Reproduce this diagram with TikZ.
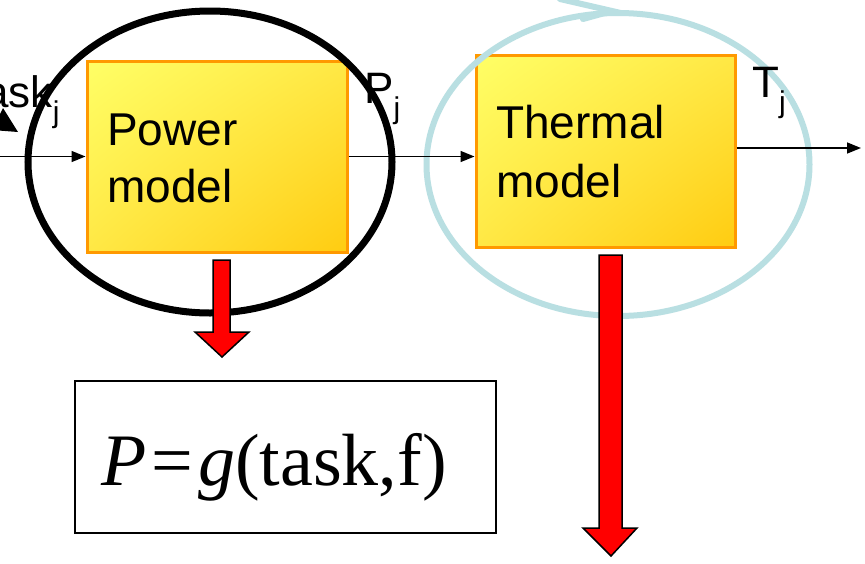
\documentclass[tikz,border=0pt]{standalone}
\usepackage{fontspec}
\setmainfont{Liberation Sans}
\newfontfamily\timesfont{Liberation Serif}
\usetikzlibrary{arrows.meta,shadings}
\definecolor{boxorange}{HTML}{FF9900}
\definecolor{ylight}{HTML}{FFFF66}
\definecolor{ymid}{HTML}{FFE845}
\definecolor{ydark}{HTML}{FFCC11}
\definecolor{tealring}{HTML}{B9DFE2}
\definecolor{arrowred}{HTML}{FF0000}
\newcommand{\subj}[1]{#1{\fontsize{30}{30}\selectfont\raisebox{-15pt}{j}}}
\tikzset{
  modelbox/.style={draw=boxorange, line width=3pt, rectangle, inner sep=0pt,
    upper left=ylight, lower right=ydark, upper right=ymid, lower left=ymid},
  boxtext/.style={anchor=base west, inner sep=0pt, font=\fontsize{46}{57}\selectfont},
  lbl/.style={anchor=base west, inner sep=0pt, font=\fontsize{44}{50}\selectfont},
  flow/.style={line width=1.5pt, -{Triangle[length=14pt,width=11pt]}},
  redarrow/.style={fill=arrowred, draw=black, line width=1.5pt, line join=miter},
}
\begin{document}
\begin{tikzpicture}[x=1pt,y=-1pt]
\useasboundingbox (0,0) rectangle (865,563);
\clip (0,0) rectangle (865,563);
\fill[white] (0,0) rectangle (865,563);

% boxes
\node[modelbox, minimum width=260pt, minimum height=191pt] (power) at (217,156.5) {};
\node[modelbox, minimum width=259pt, minimum height=192pt] (thermal) at (605.5,151) {};

\node[boxtext] (pw1) at (107,145) {Power};
\node[boxtext] (pw2) at (107,202) {model};
\node[boxtext] (th1) at (496,138) {Thermal};
\node[boxtext] (th2) at (496,197) {model};

% rings
\draw[line width=7pt] (210,162) ellipse [x radius=182, y radius=151];
\draw[tealring, line width=6pt] (618,164.5) ellipse [x radius=191.5, y radius=151.5];
\draw[tealring, line width=6pt, line cap=round] (560,-1) -- (612,11) -- (583,19);

% connectors
\coordinate (in) at (-5,156.5);
\coordinate (out) at (861,148);
\draw[flow] (in) -- (power.west);
\draw[flow] (power.east) -- (power.east -| thermal.west);
\draw[flow] (thermal.east |- out) -- (out);

% labels
\node[lbl] (task) at (-28,107) {\subj{task}};
\fill (3,108) -- (18,132) -- (-8,130) -- cycle;
\node[lbl] (pj) at (364,103) {\subj{P}};
\node[lbl] (tj) at (752,97) {\subj{T}};

% red arrows
\draw[redarrow] (213,260) -- (230,260) -- (230,332) -- (249,332) -- (222,357)
  -- (195,332) -- (213,332) -- cycle;
\draw[redarrow] (599,255) -- (622,255) -- (622,528) -- (637,528) -- (611,556)
  -- (583,528) -- (599,528) -- cycle;

% formula box
\node[draw, line width=1.5pt, minimum width=421pt, minimum height=152pt, inner sep=0pt] (formula) at (285.5,457) {};
\node[anchor=base west, inner sep=0pt, font=\timesfont\fontsize{74}{80}\selectfont] (ftext) at (101,485)
  {{\itshape P}\hspace{5pt}=\hspace{5pt}{\itshape g}(task,f)};
\end{tikzpicture}
\end{document}
